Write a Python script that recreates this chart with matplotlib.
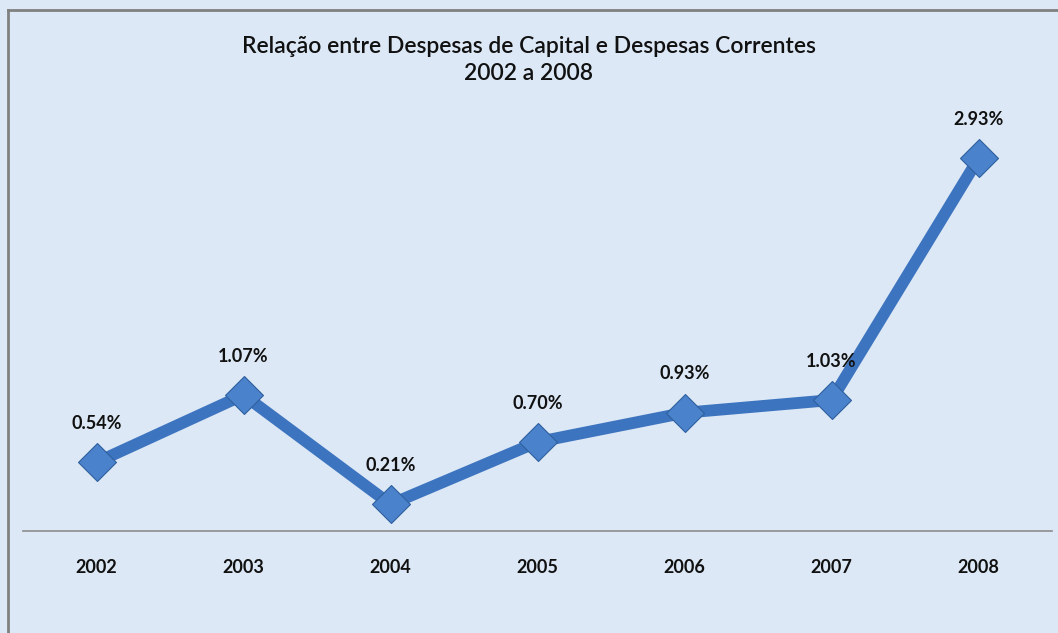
import matplotlib
matplotlib.use("Agg")
import matplotlib.pyplot as plt
from matplotlib.lines import Line2D

years = ["2002", "2003", "2004", "2005", "2006", "2007", "2008"]
values = [0.54, 1.07, 0.21, 0.70, 0.93, 1.03, 2.93]
labels = ["0.54%", "1.07%", "0.21%", "0.70%", "0.93%", "1.03%", "2.93%"]
title = "Relação entre Despesas de Capital e Despesas Correntes\n2002 a 2008"

W, H = 1058, 633
bg = "#dce8f5"
fig = plt.figure(figsize=(W / 100, H / 100), dpi=100, facecolor=bg)
plt.rcParams['font.family'] = ['Lato', 'DejaVu Sans']

left, right, bottom, top = 23, 1052, 531, 86
ax = fig.add_axes([left / W, 1 - bottom / H, (right - left) / W, (bottom - top) / H])
ax.set_facecolor("none")
xs = list(range(len(years)))
ax.plot(xs, values, color="#3d74bf", lw=8.5, solid_capstyle="butt", zorder=2)
ax.plot(xs, values, linestyle="none", marker="D", markersize=19,
        markerfacecolor="#4a82cc", markeredgecolor="#2f5f9e", markeredgewidth=0.8, zorder=3)
for x, v, t in zip(xs, values, labels):
    ax.annotate(t, (x, v), xytext=(0, 28), textcoords="offset points",
                ha="center", va="center", fontsize=13, fontweight="bold", color="#111111")

ax.set_xlim(-0.5, len(years) - 0.5)
ax.set_ylim(0, 3.5)
ax.set_xticks(xs)
ax.set_xticklabels(years, fontsize=13, fontweight="bold", color="#111111")
ax.tick_params(axis="x", length=0, pad=20)
ax.set_yticks([])
for s in ["top", "right", "left"]:
    ax.spines[s].set_visible(False)
ax.spines["bottom"].set_color("#8c8c8c")
ax.spines["bottom"].set_linewidth(1.2)

fig.text(0.5, 1 - 60 / H, title, ha="center", va="center", fontsize=16.5,
         fontweight="semibold", color="#111111", linespacing=1.3)

# outer frame (top and left edges visible)
fig.add_artist(Line2D([8 / W, 1], [1 - 10 / H, 1 - 10 / H], transform=fig.transFigure,
                      color="#808080", lw=2))
fig.add_artist(Line2D([8 / W, 8 / W], [0, 1 - 10 / H], transform=fig.transFigure,
                      color="#808080", lw=2))

fig.savefig("out.png", dpi=100, facecolor=bg)
